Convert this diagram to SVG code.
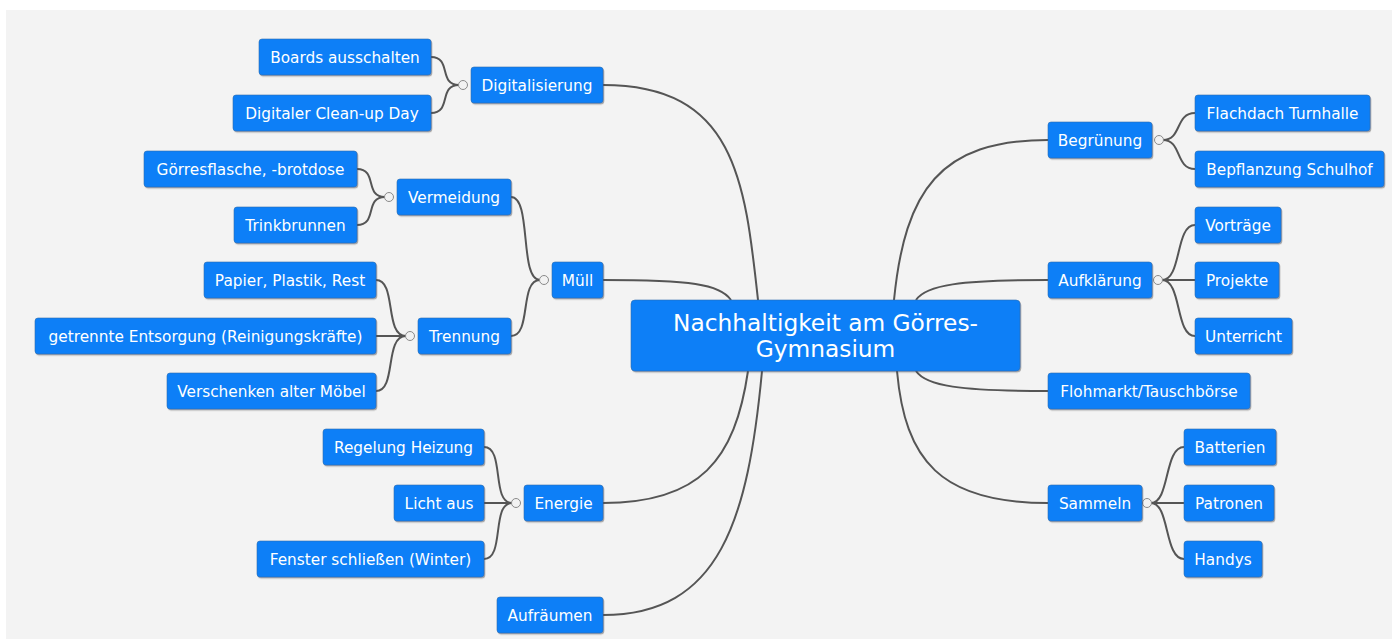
<svg xmlns="http://www.w3.org/2000/svg" width="1394" height="639" viewBox="0 0 1394 639">
<defs>
<style>
.n rect{fill:#0a7ff7;stroke:#2f6db0;stroke-width:0.6;filter:url(#sh)}
.n text{font-family:"DejaVu Sans",Verdana,sans-serif;font-size:15.3px;fill:#ffffff;text-anchor:middle}
.c text{font-size:23.3px}
#connectors path{fill:none;stroke:#555555;stroke-width:2}
.k{fill:#f2f2f2;stroke:#8a8a8a;stroke-width:1}
</style>
<filter id="sh" x="-10%" y="-20%" width="120%" height="150%">
<feDropShadow dx="1" dy="1.2" stdDeviation="0.7" flood-color="#404040" flood-opacity="0.45"/>
</filter>
</defs>
<rect x="0" y="0" width="1394" height="639" fill="#ffffff"/>
<rect x="6" y="10" width="1386" height="629" fill="#f3f3f3"/>

<g id="connectors">
<path d="M603,85 C735,85 745,180 758,300"/>
<path d="M603,280 C690,280 720,284 731,300"/>
<path d="M603,503 C700,503 735,460 748,371"/>
<path d="M603,615 C720,615 748,520 762,371"/>
<path d="M1048,140 C940,140 905,190 894,300"/>
<path d="M1048,280 C960,280 926,285 916,300"/>
<path d="M1048,391 C960,391 926,386 916,371"/>
<path d="M1048,503 C940,503 905,460 897,371"/>
<path d="M431,57 C452,57 438,85 459,85"/>
<path d="M431,113 C452,113 438,85 459,85"/>
<path d="M357,169 C378,169 364,197 385,197"/>
<path d="M357,225 C378,225 364,197 385,197"/>
<path d="M511,197 C532,197 519,280 540,280"/>
<path d="M511,336 C532,336 519,280 540,280"/>
<path d="M376,280 C397,280 384,336 406,336"/>
<path d="M376,336 L406,336"/>
<path d="M376,391 C397,391 384,336 406,336"/>
<path d="M484,447 C505,447 491,503 512,503"/>
<path d="M484,503 L512,503"/>
<path d="M484,559 C505,559 491,503 512,503"/>
<path d="M1163,140 C1182,140 1175,113 1195,113"/>
<path d="M1163,140 C1182,140 1175,169 1195,169"/>
<path d="M1162,280 C1182,280 1175,225 1195,225"/>
<path d="M1162,280 L1195,280"/>
<path d="M1162,280 C1182,280 1175,336 1195,336"/>
<path d="M1151,503 C1170,503 1164,447 1184,447"/>
<path d="M1151,503 L1184,503"/>
<path d="M1151,503 C1170,503 1164,559 1184,559"/>
<circle class="k" cx="463" cy="85" r="4.5"/>
<circle class="k" cx="389" cy="197" r="4.5"/>
<circle class="k" cx="544" cy="280" r="4.5"/>
<circle class="k" cx="410" cy="336" r="4.5"/>
<circle class="k" cx="516" cy="503" r="4.5"/>
<circle class="k" cx="1159" cy="140" r="4.5"/>
<circle class="k" cx="1158" cy="280" r="4.5"/>
<circle class="k" cx="1147" cy="503" r="4.5"/>
</g>

<g id="center" class="n c"><rect x="631" y="300" width="389" height="71" rx="4"/><text x="825.5" y="331">Nachhaltigkeit am Görres-</text><text x="825.5" y="357">Gymnasium</text></g>

<g id="digitalisierung" class="n"><rect x="471" y="67" width="132" height="36" rx="3"/><text x="537" y="90.5">Digitalisierung</text></g>
<g id="boards" class="n"><rect x="259" y="39" width="172" height="36" rx="3"/><text x="345" y="62.5">Boards ausschalten</text></g>
<g id="cleanup" class="n"><rect x="233" y="95" width="198" height="36" rx="3"/><text x="332" y="118.5">Digitaler Clean-up Day</text></g>
<g id="vermeidung" class="n"><rect x="397" y="179" width="114" height="36" rx="3"/><text x="454" y="202.5">Vermeidung</text></g>
<g id="goerresflasche" class="n"><rect x="144" y="151" width="213" height="36" rx="3"/><text x="250.5" y="174.5">Görresflasche, -brotdose</text></g>
<g id="trinkbrunnen" class="n"><rect x="234" y="207" width="123" height="36" rx="3"/><text x="295.5" y="230.5">Trinkbrunnen</text></g>
<g id="muell" class="n"><rect x="552" y="262" width="51" height="36" rx="3"/><text x="577.5" y="285.5">Müll</text></g>
<g id="trennung" class="n"><rect x="418" y="318" width="93" height="36" rx="3"/><text x="464.5" y="341.5">Trennung</text></g>
<g id="papier" class="n"><rect x="204" y="262" width="172" height="36" rx="3"/><text x="290" y="285.5">Papier, Plastik, Rest</text></g>
<g id="entsorgung" class="n"><rect x="35" y="318" width="341" height="36" rx="3"/><text x="205.5" y="341.5">getrennte Entsorgung (Reinigungskräfte)</text></g>
<g id="verschenken" class="n"><rect x="167" y="373" width="209" height="36" rx="3"/><text x="271.5" y="396.5">Verschenken alter Möbel</text></g>
<g id="energie" class="n"><rect x="524" y="485" width="79" height="36" rx="3"/><text x="563.5" y="508.5">Energie</text></g>
<g id="heizung" class="n"><rect x="323" y="429" width="161" height="36" rx="3"/><text x="403.5" y="452.5">Regelung Heizung</text></g>
<g id="licht" class="n"><rect x="394" y="485" width="90" height="36" rx="3"/><text x="439" y="508.5">Licht aus</text></g>
<g id="fenster" class="n"><rect x="257" y="541" width="227" height="36" rx="3"/><text x="370.5" y="564.5">Fenster schließen (Winter)</text></g>
<g id="aufraeumen" class="n"><rect x="497" y="597" width="106" height="36" rx="3"/><text x="550" y="620.5">Aufräumen</text></g>

<g id="begruenung" class="n"><rect x="1048" y="122" width="104" height="36" rx="3"/><text x="1100" y="145.5">Begrünung</text></g>
<g id="flachdach" class="n"><rect x="1195" y="95" width="175" height="36" rx="3"/><text x="1282.5" y="118.5">Flachdach Turnhalle</text></g>
<g id="bepflanzung" class="n"><rect x="1195" y="151" width="189" height="36" rx="3"/><text x="1289.5" y="174.5">Bepflanzung Schulhof</text></g>
<g id="aufklaerung" class="n"><rect x="1048" y="262" width="104" height="36" rx="3"/><text x="1100" y="285.5">Aufklärung</text></g>
<g id="vortraege" class="n"><rect x="1195" y="207" width="86" height="36" rx="3"/><text x="1238" y="230.5">Vorträge</text></g>
<g id="projekte" class="n"><rect x="1195" y="262" width="84" height="36" rx="3"/><text x="1237" y="285.5">Projekte</text></g>
<g id="unterricht" class="n"><rect x="1195" y="318" width="97" height="36" rx="3"/><text x="1243.5" y="341.5">Unterricht</text></g>
<g id="flohmarkt" class="n"><rect x="1048" y="373" width="202" height="36" rx="3"/><text x="1149" y="396.5">Flohmarkt/Tauschbörse</text></g>
<g id="sammeln" class="n"><rect x="1048" y="485" width="94" height="36" rx="3"/><text x="1095" y="508.5">Sammeln</text></g>
<g id="batterien" class="n"><rect x="1184" y="429" width="92" height="36" rx="3"/><text x="1230" y="452.5">Batterien</text></g>
<g id="patronen" class="n"><rect x="1184" y="485" width="90" height="36" rx="3"/><text x="1229" y="508.5">Patronen</text></g>
<g id="handys" class="n"><rect x="1184" y="541" width="78" height="36" rx="3"/><text x="1223" y="564.5">Handys</text></g>
</svg>
